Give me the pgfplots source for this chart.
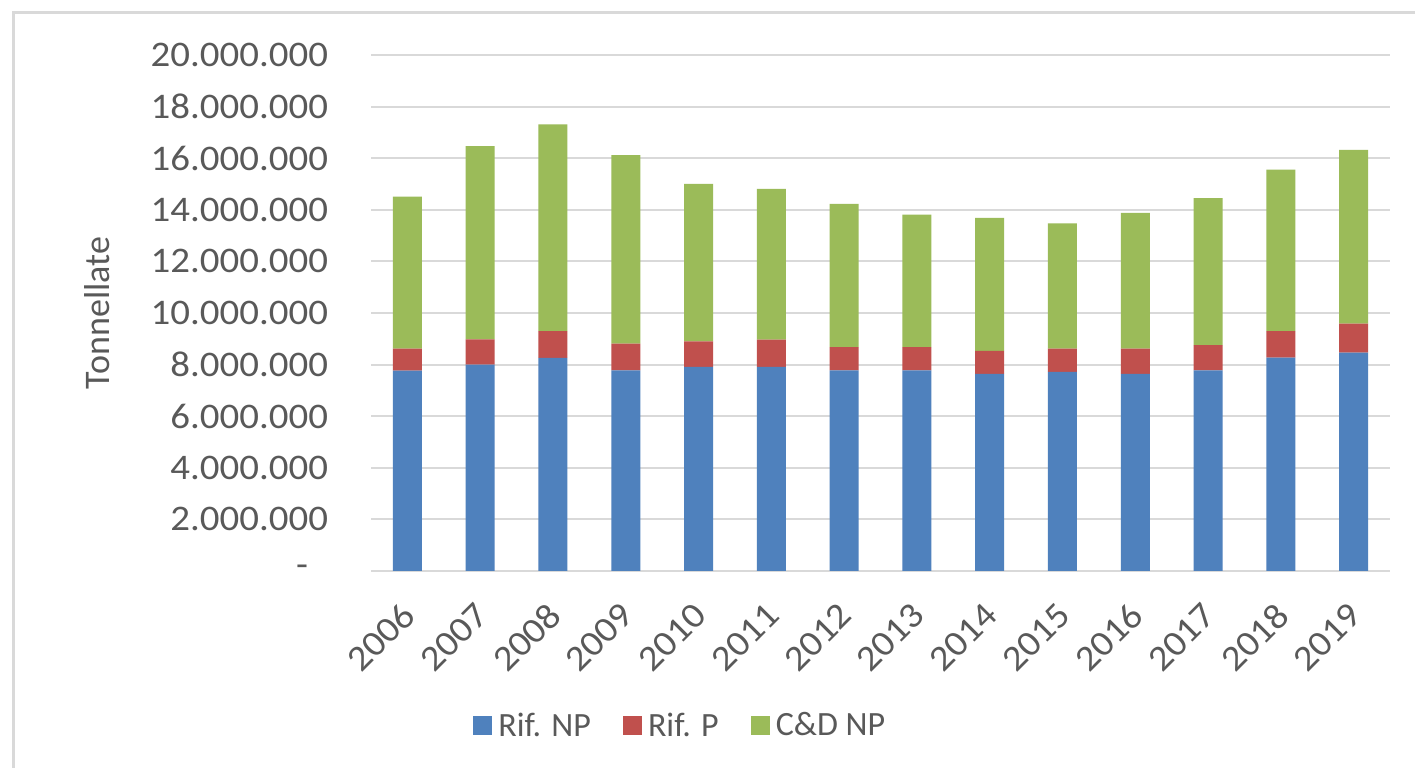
\documentclass[border=0pt]{standalone}
\usepackage{fontspec}
\setmainfont{Carlito}
\newfontfamily\tickfont{Carlito}[FakeStretch=1.08]
\usepackage{pgfplots}
\pgfplotsset{compat=1.18}
\definecolor{cblue}{RGB}{79,129,189}
\definecolor{cred}{RGB}{192,80,77}
\definecolor{cgreen}{RGB}{155,187,89}
\definecolor{ctext}{RGB}{89,89,89}
\definecolor{cgrid}{RGB}{217,217,217}
\begin{document}
\begin{tikzpicture}
\clip (0bp,0bp) rectangle (707.5bp,384bp);
\fill[white] (0bp,0bp) rectangle (707.5bp,384bp);
\draw[cgrid, line width=1.5bp] (6.5bp,-10bp) rectangle (730bp,377.5bp);
\begin{axis}[
  at={(185.5bp,98.5bp)}, anchor=south west,
  scale only axis, width=509.5bp, height=258bp,
  ybar stacked, bar width=14.5bp,
  xmin=-0.5, xmax=13.5, ymin=0, ymax=20000000,
  xtick={0,...,13},
  xticklabels={2006,2007,2008,2009,2010,2011,2012,2013,2014,2015,2016,2017,2018,2019},
  ytick={0,2000000,4000000,6000000,8000000,10000000,12000000,14000000,16000000,18000000,20000000},
  yticklabels={{-\rule{10bp}{0pt}},2.000.000,4.000.000,6.000.000,8.000.000,10.000.000,12.000.000,14.000.000,16.000.000,18.000.000,20.000.000},
  scaled y ticks=false,
  ymajorgrids, major grid style={cgrid, line width=1bp},
  axis y line*=left, axis x line*=bottom,
  y axis line style={draw=none},
  x axis line style={cgrid, line width=1bp},
  major tick length=0pt,
  tick label style={font=\tickfont\fontsize{18bp}{21bp}\selectfont, text=ctext},
  yticklabel style={xshift=-18bp},
  xticklabel style={xshift=3.3bp, yshift=-16.8bp, rotate=45, anchor=east},
  ylabel={Tonnellate},
  ylabel style={font=\fontsize{18bp}{21bp}\selectfont, text=ctext, at={(axis description cs:-0.269,0.5)}, anchor=center},
  legend columns=3,
  legend style={draw=none, fill=none, inner sep=0pt, at={(0.1,-0.30)}, anchor=west,
    font=\fontsize{17bp}{20bp}\selectfont, text=ctext,
    nodes={inner xsep=3bp},
    /tikz/every even column/.append style={column sep=13bp}},
  legend image code/.code={\fill[#1] (0bp,-4.75bp) rectangle (9.5bp,4.75bp);},
]
\addplot[fill=cblue, draw=none] coordinates {(0,7770000) (1,8000000) (2,8260000) (3,7780000) (4,7910000) (5,7910000) (6,7780000) (7,7780000) (8,7640000) (9,7720000) (10,7640000) (11,7780000) (12,8270000) (13,8460000)};
\addplot[fill=cred, draw=none] coordinates {(0,850000) (1,980000) (2,1040000) (3,1030000) (4,990000) (5,1060000) (6,900000) (7,900000) (8,890000) (9,900000) (10,980000) (11,970000) (12,1030000) (13,1130000)};
\addplot[fill=cgreen, draw=none] coordinates {(0,5890000) (1,7490000) (2,8010000) (3,7310000) (4,6100000) (5,5840000) (6,5550000) (7,5130000) (8,5160000) (9,4850000) (10,5260000) (11,5700000) (12,6260000) (13,6730000)};
\legend{Rif. NP, Rif. P, C\&D NP}
\end{axis}
\end{tikzpicture}
\end{document}
